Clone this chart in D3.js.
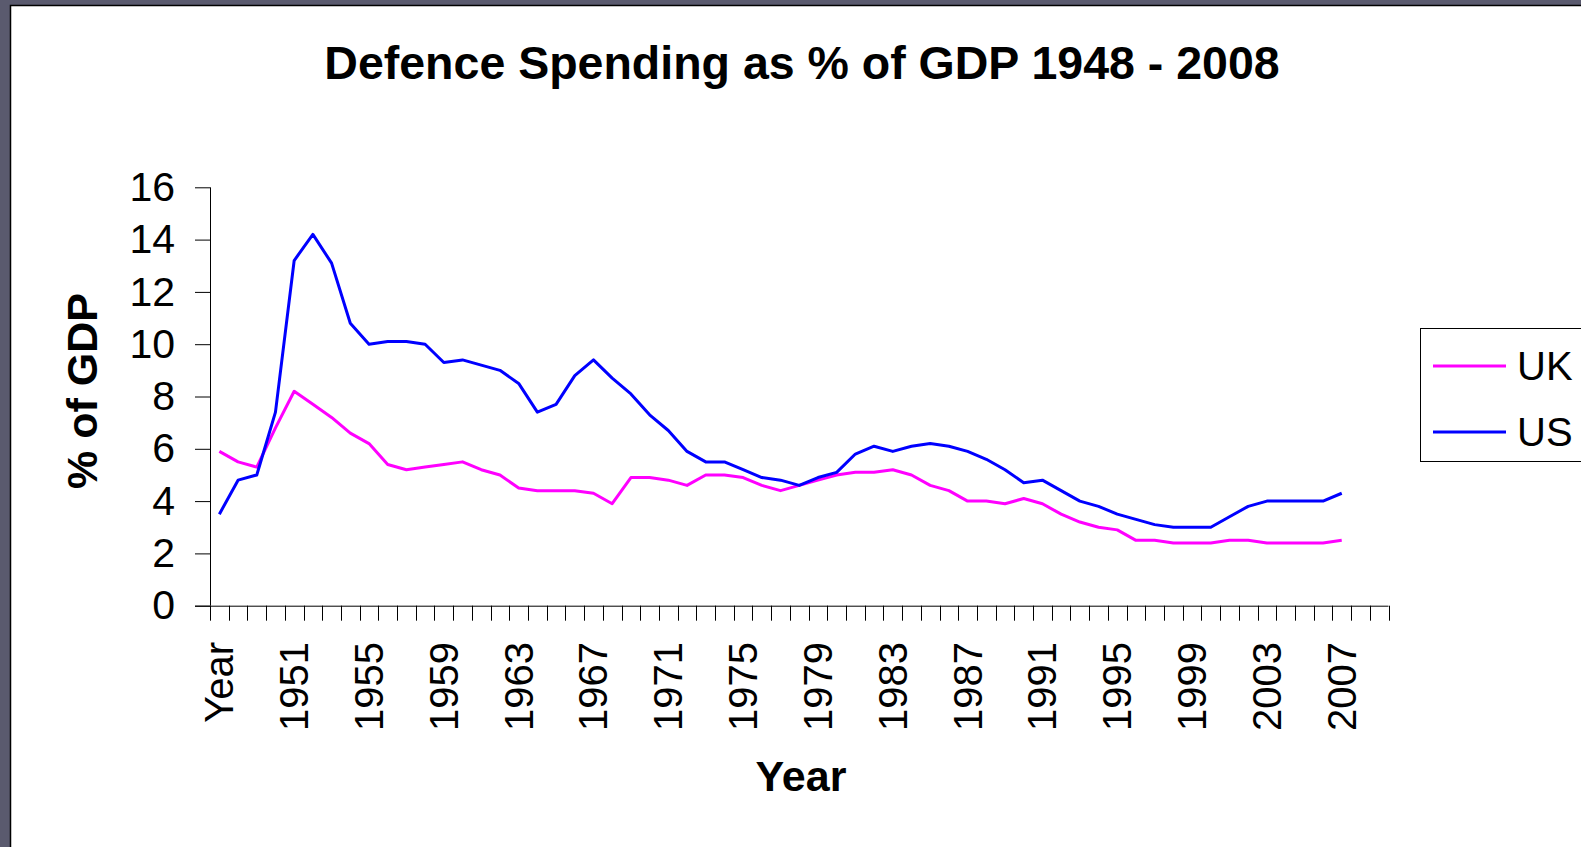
<!DOCTYPE html>
<html>
<head>
<meta charset="utf-8">
<script src="https://cdn.jsdelivr.net/npm/d3@7/dist/d3.min.js"></script>
<style>
  html, body { margin: 0; padding: 0; background: #5a5a6e; }
  svg { display: block; }
  text { font-family: "Liberation Sans", Arial, sans-serif; fill: #000; }
</style>
</head>
<body>
<svg id="chart" width="1581" height="847"></svg>
<script>
// ---- data ----
const categories = ["Year","1948","1949","1950","1951","1952","1953","1954","1955","1956","1957","1958","1959",
  "1960","1961","1962","1963","1964","1965","1966","1967","1968","1969","1970","1971","1972","1973","1974",
  "1975","1976","1977","1978","1979","1980","1981","1982","1983","1984","1985","1986","1987","1988","1989",
  "1990","1991","1992","1993","1994","1995","1996","1997","1998","1999","2000","2001","2002","2003","2004",
  "2005","2006","2007","2008","2009"];
const tickLabels = ["Year","1951","1955","1959","1963","1967","1971","1975","1979","1983","1987","1991","1995","1999","2003","2007"];
const ukValues = [5.9,5.5,5.3,6.8,8.2,7.7,7.2,6.6,6.2,5.4,5.2,5.3,5.4,5.5,5.2,5.0,4.5,4.4,4.4,4.4,4.3,3.9,
  4.9,4.9,4.8,4.6,5.0,5.0,4.9,4.6,4.4,4.6,4.8,5.0,5.1,5.1,5.2,5.0,4.6,4.4,4.0,4.0,3.9,4.1,3.9,3.5,3.2,3.0,2.9,
  2.5,2.5,2.4,2.4,2.4,2.5,2.5,2.4,2.4,2.4,2.4,2.5];
const usValues = [3.5,4.8,5.0,7.4,13.2,14.2,13.1,10.8,10.0,10.1,10.1,10.0,9.3,9.4,9.2,9.0,8.5,7.4,7.7,8.8,9.4,8.7,
  8.1,7.3,6.7,5.9,5.5,5.5,5.2,4.9,4.8,4.6,4.9,5.1,5.8,6.1,5.9,6.1,6.2,6.1,5.9,5.6,5.2,4.7,4.8,4.4,4.0,3.8,3.5,
  3.3,3.1,3.0,3.0,3.0,3.4,3.8,4.0,4.0,4.0,4.0,4.3];
const yTicks = [0,2,4,6,8,10,12,14,16];
const seriesNames = ["UK","US"];
const seriesColors = ["#ff00ff","#0000ff"];

// ---- layout ----
const W = 1581, H = 847;
const plot = { left: 210, right: 1388.5, top: 187.3, bottom: 605.7 };
const svg = d3.select("#chart");

// frame
svg.append("rect").attr("x", 0).attr("y", 0).attr("width", W).attr("height", H).attr("fill", "#5a5a6e");
svg.append("rect").attr("x", 10).attr("y", 5).attr("width", W - 10).attr("height", H - 5).attr("fill", "#fff");
svg.append("path").attr("d", `M10.5,${H}V5.5H${W}`).attr("fill", "none").attr("stroke", "#000").attr("stroke-width", 1.5);

const x = d3.scaleBand().domain(categories).range([plot.left, plot.right]).padding(0);
const y = d3.scaleLinear().domain([0, 16]).range([plot.bottom, plot.top]);

// title
svg.append("text").attr("x", 802).attr("y", 79).attr("text-anchor", "middle")
  .attr("font-size", 46.5).attr("font-weight", "bold")
  .text("Defence Spending as % of GDP 1948 - 2008");

// y axis
const yAxis = d3.axisLeft(y).tickValues(yTicks).tickSize(15).tickPadding(20).tickFormat(d3.format("d"));
const gy = svg.append("g").attr("transform", `translate(${plot.left},0)`).call(yAxis);
gy.select(".domain").attr("stroke", "#000").attr("d", `M0.5,${plot.top}V${plot.bottom}`);
gy.selectAll(".tick line").attr("stroke", "#000");
gy.selectAll(".tick text").attr("font-size", 41).attr("font-family", "Liberation Sans, Arial, sans-serif").attr("fill", "#000");

// x axis: category boundaries as ticks
const boundaries = categories.map(c => x(c)).concat([x(categories[categories.length - 1]) + x.bandwidth()]);
const gx = svg.append("g");
gx.append("line").attr("x1", plot.left - 15).attr("x2", plot.right).attr("y1", plot.bottom + 0.5).attr("y2", plot.bottom + 0.5).attr("stroke", "#000");
gx.selectAll("line.tk").data(boundaries).join("line").attr("class", "tk")
  .attr("x1", d => Math.round(d) + 0.5).attr("x2", d => Math.round(d) + 0.5)
  .attr("y1", plot.bottom).attr("y2", plot.bottom + 15).attr("stroke", "#000");
gx.selectAll("text").data(tickLabels).join("text")
  .attr("transform", d => `translate(${x(d) + x.bandwidth() / 2},642) rotate(-90)`)
  .attr("text-anchor", "end").attr("dy", "0.35em").attr("font-size", 40)
  .text(d => d);

// axis titles
svg.append("text").attr("x", 801).attr("y", 791).attr("text-anchor", "middle")
  .attr("font-size", 43).attr("font-weight", "bold").text("Year");
svg.append("text").attr("transform", "translate(97,391) rotate(-90)").attr("text-anchor", "middle")
  .attr("font-size", 43).attr("font-weight", "bold").text("% of GDP");

// lines
const line = d3.line().x((d, i) => x(categories[i]) + x.bandwidth() / 2).y(d => y(d));
[ukValues, usValues].forEach((vals, k) => {
  svg.append("path").datum(vals).attr("d", line).attr("fill", "none")
    .attr("stroke", seriesColors[k]).attr("stroke-width", 3).attr("stroke-linejoin", "round");
});

// legend
const lg = svg.append("g");
lg.append("rect").attr("x", 1420.5).attr("y", 328.5).attr("width", 200).attr("height", 133)
  .attr("fill", "#fff").attr("stroke", "#000").attr("stroke-width", 1);
seriesNames.forEach((name, k) => {
  const cy = 366 + k * 66;
  lg.append("line").attr("x1", 1433).attr("x2", 1506).attr("y1", cy).attr("y2", cy)
    .attr("stroke", seriesColors[k]).attr("stroke-width", 3);
  lg.append("text").attr("x", 1517).attr("y", cy + 14).attr("font-size", 40).text(name);
});
</script>
</body>
</html>
